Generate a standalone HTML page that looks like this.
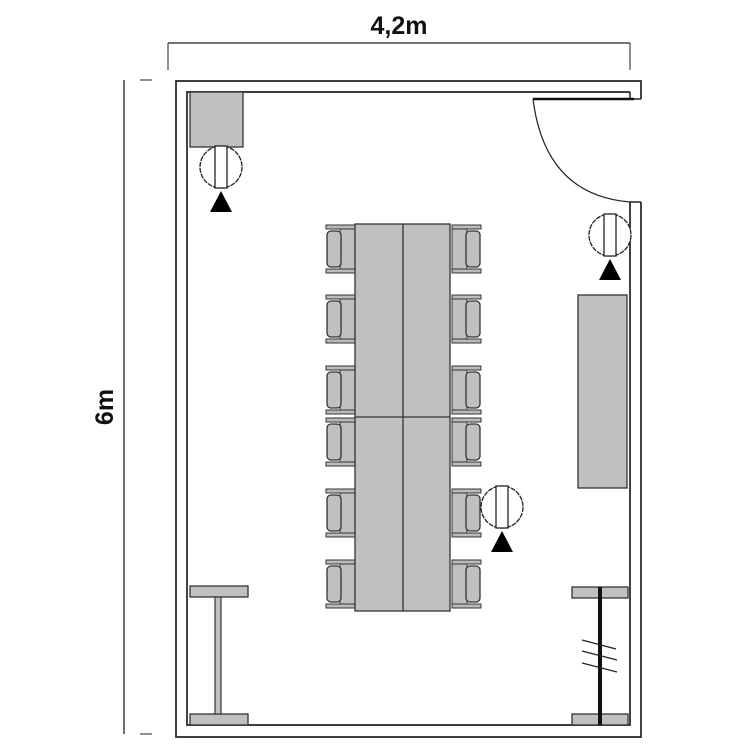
<!DOCTYPE html>
<html><head><style>body{margin:0;background:#fff}svg{display:block}</style></head><body>
<svg width="750" height="750" viewBox="0 0 750 750" xmlns="http://www.w3.org/2000/svg">
<defs>
<g id="chL">
<rect x="326" y="0" width="29" height="4" fill="#bbb" stroke="#333" stroke-width="1"/>
<rect x="326" y="44" width="29" height="4" fill="#bbb" stroke="#333" stroke-width="1"/>
<rect x="340" y="4" width="15" height="40" fill="#c0c0c0" stroke="#333" stroke-width="1"/>
<rect x="327" y="6" width="14" height="36" rx="4" fill="#c0c0c0" stroke="#333" stroke-width="1.3"/>
</g>
<g id="lamp">
<circle cx="0" cy="0" r="21" fill="#fff" stroke="#222" stroke-width="1.3" stroke-dasharray="5,1"/>
<rect x="-6" y="-21" width="12" height="42" fill="#fff" stroke="#222" stroke-width="1.3"/>
<polygon points="0,24 -11,45 11,45" fill="#000"/>
</g>
</defs>
<!-- dimensions -->
<line x1="168" y1="43" x2="630" y2="43" stroke="#222" stroke-width="1.3"/>
<line x1="168" y1="43" x2="168" y2="70" stroke="#222" stroke-width="1"/>
<line x1="630" y1="43" x2="630" y2="70" stroke="#222" stroke-width="1"/>
<text x="399" y="34" font-family="Liberation Sans, sans-serif" font-weight="bold" font-size="25" text-anchor="middle" fill="#111">4,2m</text>
<line x1="124" y1="80" x2="124" y2="734" stroke="#222" stroke-width="1.3"/>
<line x1="140" y1="80" x2="152" y2="80" stroke="#222"/>
<line x1="140" y1="734" x2="152" y2="734" stroke="#222"/>
<text x="0" y="0" font-family="Liberation Sans, sans-serif" font-weight="bold" font-size="25" text-anchor="middle" fill="#111" transform="translate(113,407) rotate(-90)">6m</text>
<!-- walls -->
<path d="M641,99 L641,81 L176,81 L176,737 L641,737 L641,202" fill="none" stroke="#222" stroke-width="1.7"/>
<path d="M630,92 L187,92 L187,725 L630,725 L630,202" fill="none" stroke="#222" stroke-width="1.7"/>
<line x1="630" y1="92" x2="630" y2="99" stroke="#222" stroke-width="1.5"/>
<line x1="630" y1="99" x2="641" y2="99" stroke="#222" stroke-width="1.5"/>
<line x1="630" y1="202" x2="641" y2="202" stroke="#222" stroke-width="1.5"/>
<line x1="533" y1="99" x2="634" y2="99" stroke="#111" stroke-width="2.5"/>
<path d="M533,99 Q545,195 630,202" fill="none" stroke="#222" stroke-width="1.2"/>
<!-- top-left box -->
<rect x="190" y="92" width="53" height="55" fill="#c0c0c0" stroke="#333" stroke-width="1.3"/>
<use href="#lamp" transform="translate(221,167)"/>
<use href="#lamp" transform="translate(610,235)"/>
<!-- cabinet -->
<rect x="578" y="295" width="49" height="193" fill="#c0c0c0" stroke="#333" stroke-width="1.3"/>
<!-- chairs -->
<use href="#chL" transform="translate(0,225)"/>
<use href="#chL" transform="translate(0,295)"/>
<use href="#chL" transform="translate(0,366)"/>
<use href="#chL" transform="translate(0,418)"/>
<use href="#chL" transform="translate(0,489)"/>
<use href="#chL" transform="translate(0,560)"/>
<g transform="translate(807,0) scale(-1,1)">
<use href="#chL" transform="translate(0,225)"/>
<use href="#chL" transform="translate(0,295)"/>
<use href="#chL" transform="translate(0,366)"/>
<use href="#chL" transform="translate(0,418)"/>
<use href="#chL" transform="translate(0,489)"/>
<use href="#chL" transform="translate(0,560)"/>
</g>
<!-- table -->
<rect x="355" y="224" width="95" height="387" fill="#c0c0c0" stroke="#333" stroke-width="1.3"/>
<line x1="403" y1="224" x2="403" y2="611" stroke="#333" stroke-width="1.3"/>
<line x1="355" y1="417" x2="450" y2="417" stroke="#333" stroke-width="1.3"/>
<use href="#lamp" transform="translate(502,507)"/>
<!-- bottom-left I -->
<rect x="190" y="586" width="58" height="11" fill="#c0c0c0" stroke="#333" stroke-width="1.3"/>
<rect x="190" y="714" width="58" height="11" fill="#c0c0c0" stroke="#333" stroke-width="1.3"/>
<rect x="215" y="597" width="6" height="117" fill="#c0c0c0" stroke="#333" stroke-width="1.2"/>
<!-- bottom-right -->
<rect x="572" y="587" width="56" height="11" fill="#c0c0c0" stroke="#333" stroke-width="1.3"/>
<rect x="572" y="714" width="56" height="11" fill="#c0c0c0" stroke="#333" stroke-width="1.3"/>
<rect x="598" y="587" width="4" height="138" fill="#111"/>
<g stroke="#222" stroke-width="1.2">
<line x1="582" y1="640" x2="616" y2="649"/>
<line x1="582" y1="651" x2="617" y2="660"/>
<line x1="582" y1="663" x2="617" y2="672"/>
</g>
</svg>
</body></html>
